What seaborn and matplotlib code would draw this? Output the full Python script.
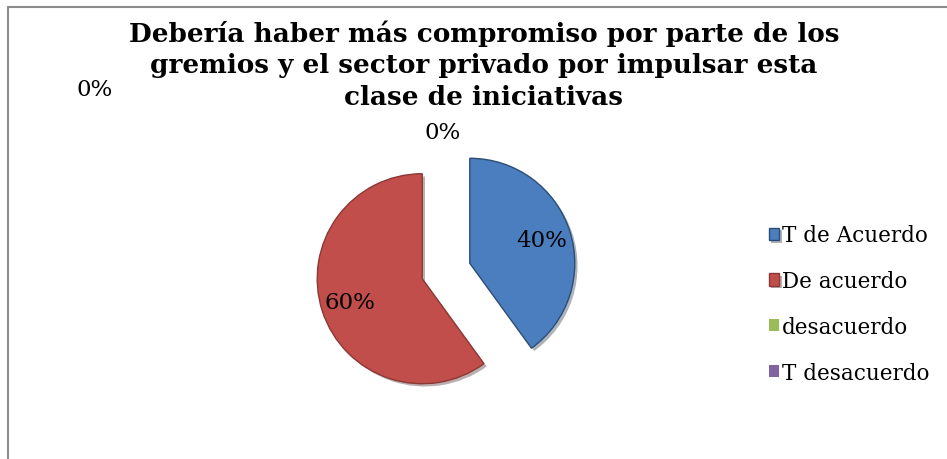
import matplotlib
matplotlib.use("Agg")
import matplotlib.pyplot as plt
import matplotlib.patheffects as pe
from matplotlib.lines import Line2D
import seaborn as sns

# datos
categorias = ['T de Acuerdo', 'De acuerdo', 'desacuerdo', 'T desacuerdo']
porcentajes = [40, 60, 0, 0]
colores = ['#4A7EBF', '#C24E4B', '#9BBB59', '#8064A2']
bordes = ['#2C4D75', '#8C3836', '#71893F', '#5C4776']
titulo = ('Debería haber más compromiso por parte de los\n'
          'gremios y el sector privado por impulsar esta\n'
          'clase de iniciativas')

sns.set_theme(style="white")
plt.rcParams['font.family'] = ['DejaVu Serif', 'Liberation Serif']
plt.rcParams['text.color'] = 'black'

W, H = 947, 460
fig = plt.figure(figsize=(W / 100, H / 100), dpi=100)
ax = fig.add_axes([0, 0, 1, 1])

# separacion de cada porcion (en pixeles)
separacion = [25, 25, 0, 0]

wedges, textos, pcts = ax.pie(
    porcentajes, colors=colores, explode=separacion, center=(446, 188),
    radius=105, startangle=90, counterclock=False,
    autopct='%1.0f%%', pctdistance=0.72,
    wedgeprops=dict(linewidth=1.0),
    textprops=dict(fontsize=16.5, color='black'))
for w, b, v in zip(wedges, bordes, porcentajes):
    w.set_edgecolor(b)
    if v == 0:
        w.set_linewidth(0)
    else:
        w.set_path_effects([pe.SimplePatchShadow(offset=(2, -2), alpha=0.35),
                            pe.Normal()])

# etiquetas de 0% como en el original
pcts[2].set_position((443, H - 133))
pcts[3].set_position((95, H - 90))

ax.set_xlim(0, W)
ax.set_ylim(0, H)
ax.set_aspect('equal')
ax.axis('off')

ax.text(484, H - 65, titulo, ha='center', va='center', fontsize=18.9,
        fontweight='bold', linespacing=1.32, color='black')

leg = ax.legend(wedges, categorias, loc='center left',
                bbox_to_anchor=(760 / W, 1 - 305 / H),
                bbox_transform=fig.transFigure, frameon=False,
                fontsize=15.5, handlelength=0.5, handleheight=0.5,
                handletextpad=0.1, labelspacing=1.1, borderaxespad=0)
for t in leg.get_texts():
    t.set_color('black')

# borde del area del grafico
fig.add_artist(Line2D([8 / W, 8 / W], [0, 1 - 8 / H], color='#8c8c8c',
                      lw=1.5, transform=fig.transFigure))
fig.add_artist(Line2D([8 / W, 1], [1 - 8 / H, 1 - 8 / H], color='#8c8c8c',
                      lw=1.5, transform=fig.transFigure))

fig.savefig('out.png', dpi=100)
